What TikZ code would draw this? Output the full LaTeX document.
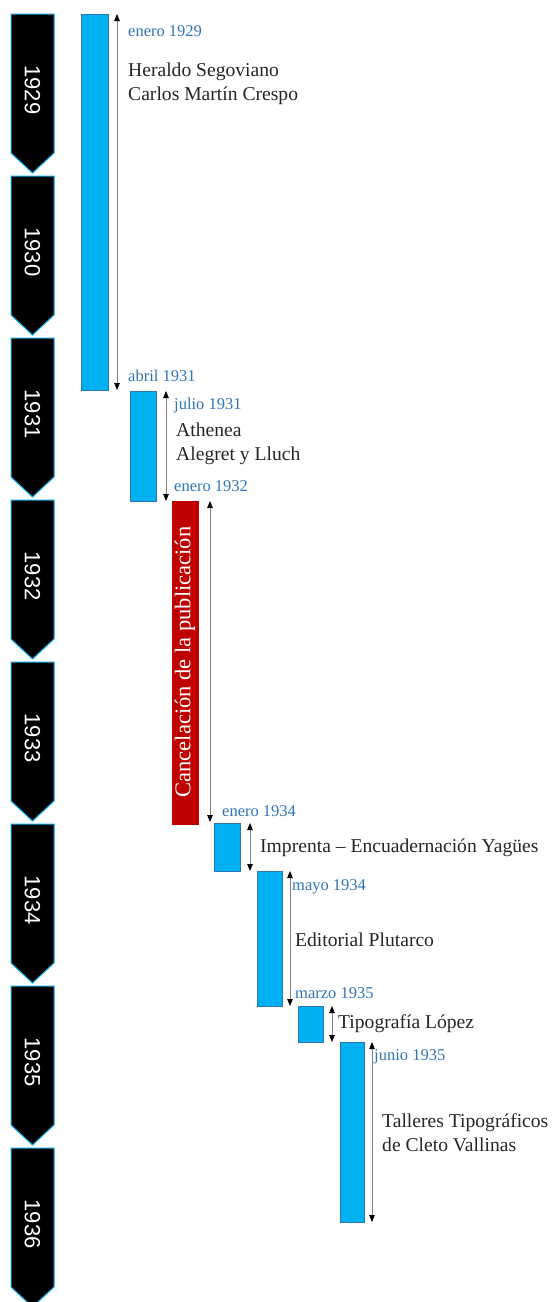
\documentclass[tikz,border=0pt]{standalone}
\usepackage{fontspec}
\setmainfont{Liberation Serif}
\newfontfamily\yearfont{Liberation Sans}
\usetikzlibrary{arrows.meta}
\definecolor{barblue}{HTML}{00B0F0}
\definecolor{barline}{HTML}{2E75B6}
\definecolor{lblblue}{HTML}{2E75B6}
\definecolor{cancelred}{HTML}{C00000}
\tikzset{
  yearshape/.style={fill=black,draw=barblue,line width=1pt},
  yeartext/.style={text=white,font=\yearfont\fontsize{22}{22}\selectfont,rotate=-90,inner sep=0pt},
  bar/.style={fill=barblue,draw=barline,line width=0.8pt},
  span/.style={draw=gray,line width=0.8pt,{Triangle[length=7pt,width=5.5pt,color=black]}-{Triangle[length=7pt,width=5.5pt,color=black]}},
  datelbl/.style={anchor=west,text=lblblue,font=\fontsize{16.5}{16.5}\selectfont,inner sep=0pt},
  namelbl/.style={anchor=west,align=left,text=black!85,font=\fontsize{19.6}{24}\selectfont,inner sep=0pt}
}
\begin{document}
\begin{tikzpicture}[x=1pt,y=-1pt]
\useasboundingbox (0,0) rectangle (552,1302);
% year chevrons
\foreach \yr [count=\i from 0] in {1929,1930,1931,1932,1933,1934,1935,1936}{
  \pgfmathsetmacro{\t}{14+162*\i}
  \draw[yearshape] (11,\t) -- (54,\t) -- (54,\t+139) -- (32.5,\t+159) -- (11,\t+139) -- cycle;
  \node[yeartext] (y\yr) at (32.5,\t+76) {\yr};
}
% bar 1
\draw[bar] (81,14) rectangle (108,390);
\coordinate (a1t) at (117,14); \coordinate (a1b) at (117,390);
\draw[span] (a1t) -- (a1b);
\node[datelbl] (d1) at (128,31) {enero 1929};
\node[namelbl] (n1) at (128,84) {Heraldo Segoviano\\Carlos Martín Crespo};
\node[datelbl] (d2) at (128,376) {abril 1931};
% bar 2
\draw[bar] (130,391) rectangle (156,501);
\coordinate (a2t) at (166,391); \coordinate (a2b) at (166,501);
\draw[span] (a2t) -- (a2b);
\node[datelbl] (d3) at (174,406) {julio 1931};
\node[namelbl] (n2) at (176,444) {Athenea\\Alegret y Lluch};
\node[datelbl] (d4) at (174,486) {enero 1932};
% red bar
\draw[fill=cancelred,draw=cancelred] (172,501) rectangle (198,824);
\node[rotate=90,text=white,font=\fontsize{22.5}{22.5}\selectfont,inner sep=0pt] (cancel) at (185,662) {Cancelación de la publicación};
\coordinate (a3t) at (210,501); \coordinate (a3b) at (210,822);
\draw[span] (a3t) -- (a3b);
\node[datelbl] (d5) at (222,811) {enero 1934};
% bar 3
\draw[bar] (214,823) rectangle (240,871);
\coordinate (a4t) at (250,823); \coordinate (a4b) at (250,871);
\draw[span] (a4t) -- (a4b);
\node[namelbl] (n3) at (260,848) {Imprenta – Encuadernación Yagües};
% bar 4
\draw[bar] (257,871) rectangle (282,1006);
\coordinate (a5t) at (290,871); \coordinate (a5b) at (290,1006);
\draw[span] (a5t) -- (a5b);
\node[datelbl] (d6) at (292,887) {mayo 1934};
\node[namelbl] (n4) at (295,940) {Editorial Plutarco};
\node[datelbl] (d7) at (295,993) {marzo 1935};
% bar 5
\draw[bar] (298,1006) rectangle (323,1042);
\coordinate (a6t) at (332,1006); \coordinate (a6b) at (332,1042);
\draw[span] (a6t) -- (a6b);
\node[namelbl] (n5) at (338,1024) {Tipografía López};
% bar 6
\draw[bar] (340,1042) rectangle (364,1222);
\coordinate (a7t) at (372,1042); \coordinate (a7b) at (372,1222);
\draw[span] (a7t) -- (a7b);
\node[datelbl] (d8) at (374,1057) {junio 1935};
\node[namelbl] (n6) at (382,1133) {Talleres Tipográficos\\de Cleto Vallinas};
\end{tikzpicture}
\end{document}
